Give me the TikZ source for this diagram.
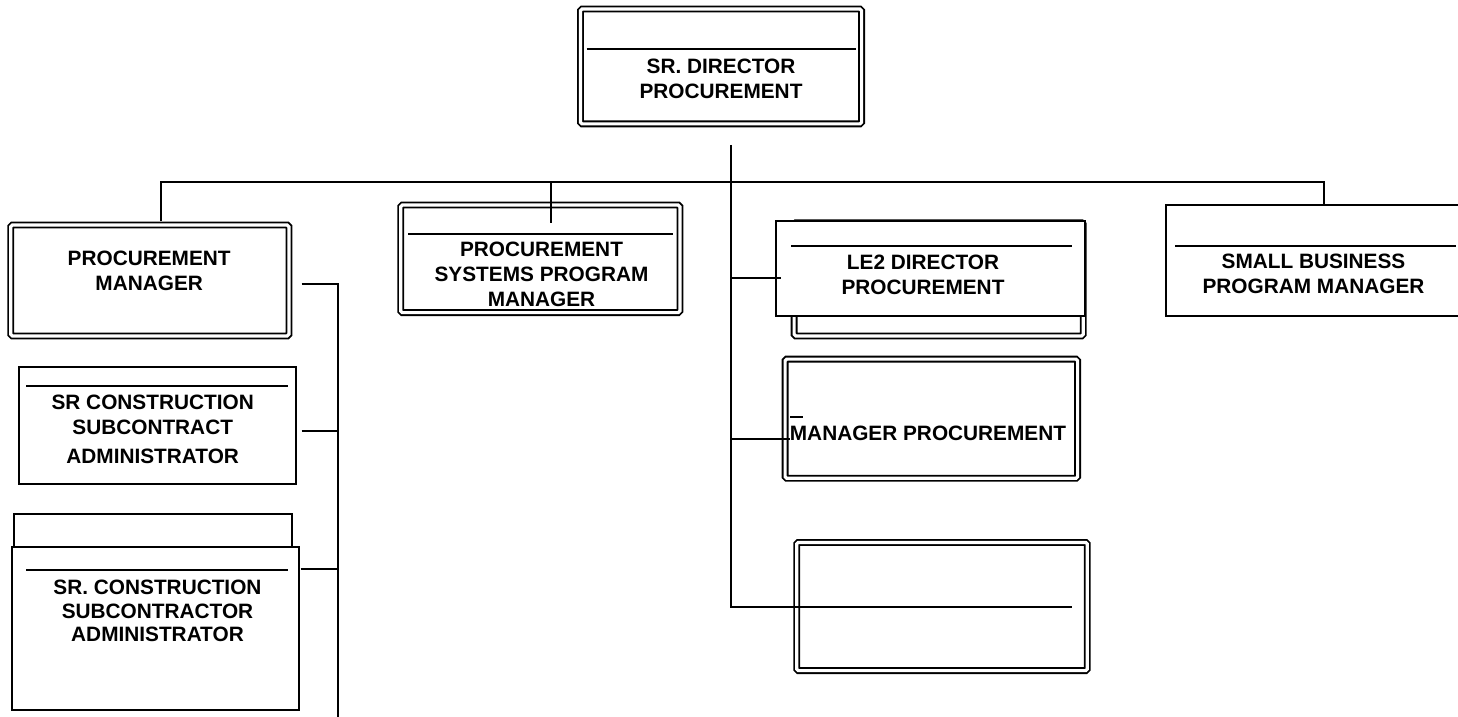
\documentclass[tikz,border=0pt]{standalone}
\usepackage{fontspec}
\setmainfont{Liberation Sans}
\usetikzlibrary{positioning}

\tikzset{
  dbox/.style={draw, double, line width=0.9pt, double distance=1.6pt, rounded corners=0.8pt, fill=white, inner sep=0pt},
  sbox/.style={draw, line width=1pt, fill=white, inner sep=0pt},
  title/.style={font=\bfseries\fontsize{10.4}{12.5}\selectfont, align=center, inner sep=0pt},
  rule/.style={line width=1pt},
  wire/.style={line width=0.85pt}
}

\begin{document}
\begin{tikzpicture}[x=0.5pt,y=-0.5pt]
        \useasboundingbox (0,0) rectangle (1458,717);
        \fill[white] (0,0) rectangle (1458,717);
        \clip (0,0) rectangle (1458,717);
        % boxes
        \node[dbox, minimum width=140.6pt, minimum height=57.4pt] (dir) at (721,66.5) {};
        \node[dbox, minimum width=139.1pt, minimum height=55.4pt] (pm) at (149.8,280.5) {};
        \node[dbox, minimum width=139.6pt, minimum height=53.75pt] (psys) at (540.3,258.85) {};
        \node[dbox, minimum width=144.6pt, minimum height=56.5pt] (le2b) at (938.7,279.4) {};
        \node[sbox, minimum width=154.45pt, minimum height=47.75pt] (le2) at (930.35,268.65) {};
        \node[sbox, minimum width=148pt, minimum height=55.45pt] (sbpm) at (1314,260.35) {};
        \node[dbox, minimum width=146.25pt, minimum height=59.6pt] (mp) at (931.35,418.7) {};
        \node[dbox, minimum width=145.3pt, minimum height=64.1pt] (emp) at (942,606.5) {};
        \node[sbox, minimum width=138.6pt, minimum height=58.6pt] (src) at (157.8,425.5) {};
        \node[sbox, minimum width=138.8pt, minimum height=43.2pt] (srcsb) at (153,556.8) {};
        \node[sbox, minimum width=143.6pt, minimum height=81.6pt] (srcs) at (155.5,628.2) {};
        % title rules
        \draw[rule] (586.7,49.3) -- (856,49.3);
        \draw[rule] (408.3,234) -- (673.3,234);
        \draw[rule] (791,245.7) -- (1071.7,245.7);
        \draw[rule] (1175,246) -- (1456,246);
        \draw[rule] (26,386) -- (288,386);
        \draw[rule] (26,570) -- (288.3,570);
        \draw[rule] (790,416.7) -- (802.7,416.7);
        % titles
        \node[title] (dir-t) at (721,79.1) {SR. DIRECTOR\\PROCUREMENT};
        \node[title] (pm-t) at (149.2,270.9) {PROCUREMENT\\MANAGER};
        \node[title] (psys-t) at (541.5,274.4) {PROCUREMENT\\SYSTEMS PROGRAM\\MANAGER};
        \node[title] (le2-t) at (923,274.75) {LE2 DIRECTOR\\PROCUREMENT};
        \node[title] (sbpm-t) at (1313.5,274.1) {SMALL BUSINESS\\PROGRAM MANAGER};
        \node[title] (src-t) at (152.7,429.5) {SR CONSTRUCTION\\SUBCONTRACT\\[2pt]ADMINISTRATOR};
        \node[title, font=\bfseries\fontsize{10.4}{11.85}\selectfont] (srcs-t) at (157.5,611) {SR. CONSTRUCTION\\SUBCONTRACTOR\\ADMINISTRATOR};
        \node[title, anchor=west] (mp-t) at (789.5,433.8) {MANAGER PROCUREMENT};
        % connectors
        \coordinate (t0) at (731,145);
        \coordinate (bus) at (731,181.7);
        \coordinate (psys-in) at (551,222.7);
        \coordinate (le2-in) at (781,277.7);
        \coordinate (mp-in) at (790,439.3);
        \coordinate (emp-e) at (1071.7,606.7);
        \coordinate (pm-r) at (301.7,284.3);
        \coordinate (src-r) at (301.7,430.7);
        \coordinate (srcs-r) at (300.7,569);
        \coordinate (s0) at (338,717);
        \draw[wire] ([xshift=5.45pt,yshift=1.7pt]pm.north) |- (bus) -| ([xshift=5pt]sbpm.north);
        \draw[wire] (psys-in |- bus) -- (psys-in);
        \draw[wire, line width=1pt] (t0) |- (emp-e);
        \draw[wire] (le2-in -| t0) -- (le2-in);
        \draw[wire] (mp-in -| t0) -- (mp-in);
        \draw[wire] (pm-r) -| (s0);
        \draw[wire] (src-r) -- (src-r -| s0);
        \draw[wire] (srcs-r) -- (srcs-r -| s0);
\end{tikzpicture}
\end{document}
